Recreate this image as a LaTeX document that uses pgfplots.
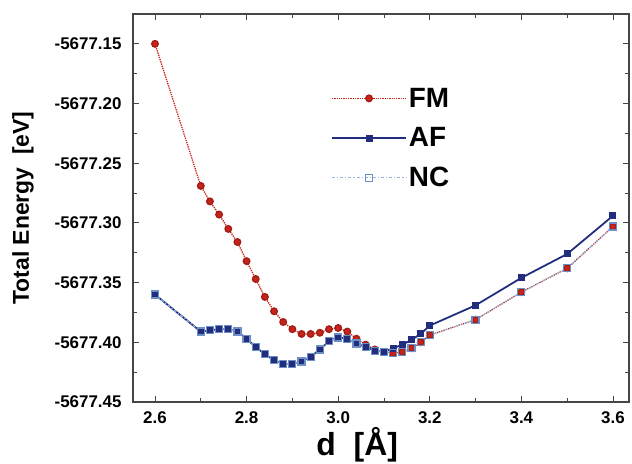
\documentclass[border=0pt]{standalone}
\usepackage{fontspec}
\setmainfont{Liberation Sans}
\usepackage{pgfplots}
\pgfplotsset{compat=1.18}
\definecolor{fmred}{RGB}{200,35,25}
\definecolor{afnavy}{RGB}{35,45,125}
\definecolor{nclight}{RGB}{140,185,230}
\definecolor{axgray}{RGB}{70,70,70}
\begin{document}
\begin{tikzpicture}
\path[use as bounding box] (-133bp,-62bp) rectangle (499bp,402bp);
\begin{axis}[
  at={(0bp,0bp)}, anchor=south west,
  scale only axis, width=496bp, height=388bp,
  xmin=2.552, xmax=3.635, ymin=-5677.45, ymax=-5677.125,
  xtick={2.6,2.8,3.0,3.2,3.4,3.6},
  minor xtick={2.7,2.9,3.1,3.3,3.5},
  ytick={-5677.45,-5677.40,-5677.35,-5677.30,-5677.25,-5677.20,-5677.15},
  minor ytick={-5677.425,-5677.375,-5677.325,-5677.275,-5677.225,-5677.175,-5677.125},
  xticklabel style={yshift=-6bp, /pgf/number format/.cd, fixed, fixed zerofill, precision=1},
  yticklabel style={xshift=-8bp, /pgf/number format/.cd, fixed, fixed zerofill, precision=2, 1000 sep={}},
  /pgf/number format/assume math mode=true,
  tick label style={font=\fontsize{17}{19}\selectfont\bfseries},
  axis line style={axgray, line width=1.4pt},
  major tick length=6bp, minor tick length=4bp,
  tick style={axgray, line width=0.9pt},
  xlabel={d\ \ [Å]},
  ylabel={Total Energy\ \ [eV]},
  xlabel style={font=\fontsize{32}{34}\selectfont\bfseries, at={(axis description cs:0.452,-0.111)}, anchor=center},
  ylabel style={font=\fontsize{23}{25}\selectfont\bfseries, at={(axis description cs:-0.222,0.5)}, anchor=center},
  legend style={draw=none, fill=none, at={(axis description cs:0.393,0.82)}, anchor=north west,
    font=\fontsize{28}{30}\selectfont\bfseries, row sep=15bp},
  legend cell align=left,
  legend image code/.code={\draw[mark repeat=2,mark phase=2,#1] plot coordinates {(0bp,0bp)(37bp,0bp)(74bp,0bp)};},
]
\addplot[color=fmred, line width=1.3pt, densely dotted, mark=*, mark size=3.3bp, mark options={solid, fill=fmred, draw=fmred!80!black}] coordinates {
(2.60,-5677.150) (2.70,-5677.269) (2.72,-5677.282) (2.74,-5677.293) (2.76,-5677.305)
(2.78,-5677.316) (2.80,-5677.332) (2.82,-5677.347) (2.84,-5677.362) (2.86,-5677.374)
(2.88,-5677.383) (2.90,-5677.389) (2.92,-5677.393) (2.94,-5677.393) (2.96,-5677.392)
(2.98,-5677.389) (3.00,-5677.388) (3.02,-5677.391) (3.04,-5677.397) (3.06,-5677.402)
(3.08,-5677.406) (3.10,-5677.408) (3.12,-5677.409) (3.14,-5677.408) (3.16,-5677.405)
(3.18,-5677.400) (3.20,-5677.394) (3.30,-5677.381) (3.40,-5677.358) (3.50,-5677.338)
(3.60,-5677.303)};
\addlegendentry{FM}
\addplot[color=afnavy, line width=1.8pt, solid, mark=square*, mark size=2.6bp, mark options={solid, fill=afnavy}] coordinates {
(2.60,-5677.360) (2.70,-5677.391) (2.72,-5677.390) (2.74,-5677.389) (2.76,-5677.389)
(2.78,-5677.391) (2.80,-5677.397) (2.82,-5677.404) (2.84,-5677.410) (2.86,-5677.415)
(2.88,-5677.418) (2.90,-5677.418) (2.92,-5677.416) (2.94,-5677.412) (2.96,-5677.406)
(2.98,-5677.399) (3.00,-5677.396) (3.02,-5677.397) (3.04,-5677.401) (3.06,-5677.404)
(3.08,-5677.407) (3.10,-5677.408) (3.12,-5677.405) (3.14,-5677.402) (3.16,-5677.398)
(3.18,-5677.393) (3.20,-5677.386) (3.30,-5677.369) (3.40,-5677.346) (3.50,-5677.326)
(3.60,-5677.294)};
\addlegendentry{AF}
\addplot[color=nclight, line width=1.2pt, dash dot, mark=square, mark size=3.5bp, mark options={solid, draw=nclight!70!afnavy, fill=none}] coordinates {
(2.60,-5677.360) (2.70,-5677.391) (2.72,-5677.390) (2.74,-5677.389) (2.76,-5677.389)
(2.78,-5677.391) (2.80,-5677.397) (2.82,-5677.404) (2.84,-5677.410) (2.86,-5677.415)
(2.88,-5677.418) (2.90,-5677.418) (2.92,-5677.416) (2.94,-5677.412) (2.96,-5677.406)
(2.98,-5677.399) (3.00,-5677.396) (3.02,-5677.397) (3.04,-5677.401) (3.06,-5677.404)
(3.08,-5677.407) (3.10,-5677.408) (3.12,-5677.409) (3.14,-5677.408) (3.16,-5677.405)
(3.18,-5677.400) (3.20,-5677.394) (3.30,-5677.381) (3.40,-5677.358) (3.50,-5677.338)
(3.60,-5677.303)};
\addlegendentry{NC}
\end{axis}
\end{tikzpicture}
\end{document}
